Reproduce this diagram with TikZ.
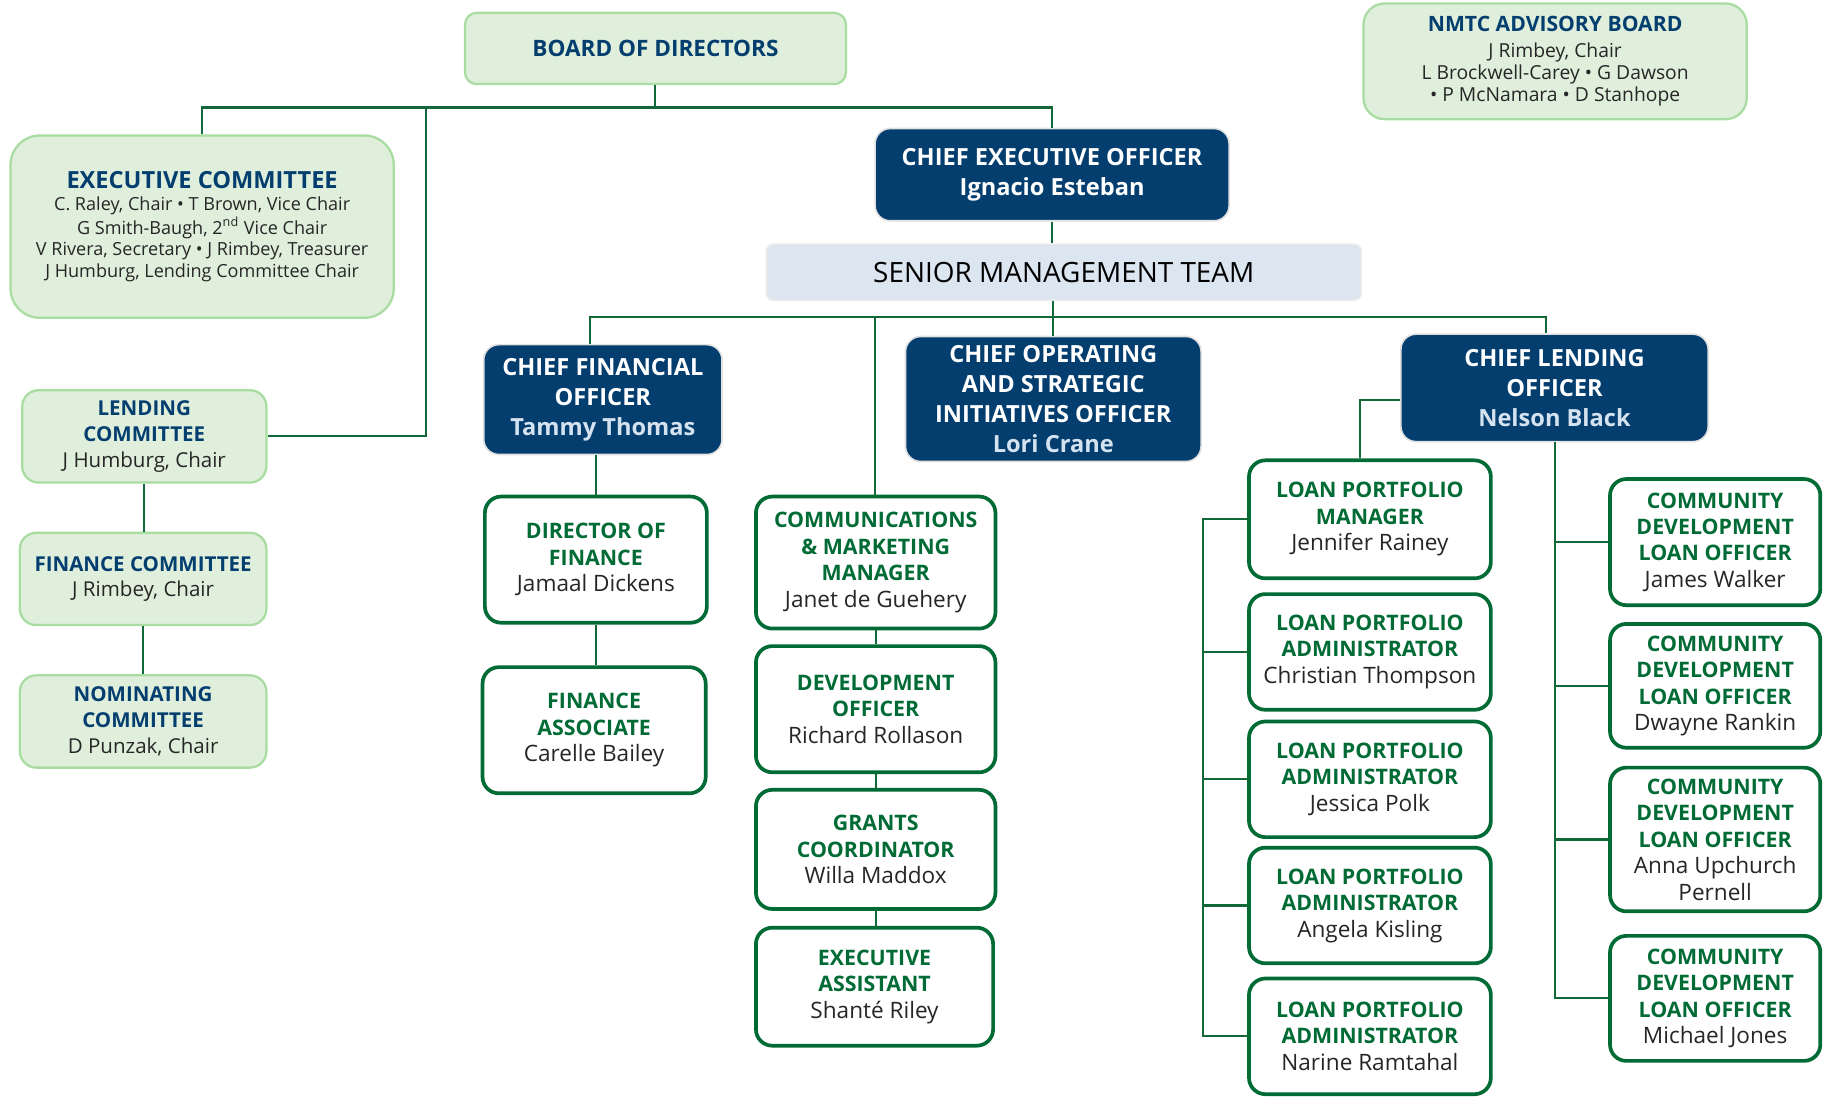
\documentclass[tikz,border=0pt]{standalone}
\usepackage{fontspec}
\setmainfont{Open Sans}
\definecolor{navy}{HTML}{033E6F}
\definecolor{cmfill}{HTML}{DFEFDC}
\definecolor{cmline}{HTML}{A8DCA0}
\definecolor{staffgreen}{HTML}{006B35}
\definecolor{linkgreen}{HTML}{126838}
\definecolor{smtfill}{HTML}{DCE6F0}
\definecolor{namelight}{HTML}{D5E3F0}
\definecolor{bodytxt}{HTML}{262626}

\tikzset{
  link/.style={draw=linkgreen, line width=1pt},
  sz/.style 2 args={minimum width=#1*0.02cm, minimum height=#2*0.02cm},
  cmte/.style={fill=cmfill, draw=cmline, line width=1.1pt, rounded corners=0.28cm,
    align=center, inner sep=0pt, text=bodytxt, font=\fontsize{10}{12.5}\selectfont},
  chief/.style={fill=navy, draw=black!12, line width=0.8pt, rounded corners=0.26cm,
    align=center, inner sep=0pt, text=white, font=\fontsize{11.5}{14.5}\selectfont\bfseries},
  staff/.style={fill=white, draw=staffgreen, line width=1.8pt, rounded corners=0.28cm,
    align=center, inner sep=0pt, text=bodytxt, font=\fontsize{11}{12.9}\selectfont},
}
\newcommand{\cmttl}[1]{\textbf{\textcolor{navy}{#1}}}
\newcommand{\stttl}[1]{{\fontsize{10.4}{12.9}\selectfont\bfseries\color{staffgreen}#1}}
\newcommand{\chname}[1]{\textcolor{namelight}{#1}}

\begin{document}
\begin{tikzpicture}[x=0.02cm, y=-0.02cm]
\useasboundingbox (0,0) rectangle (1568,939);

% board and committees
\node[cmte, sz={326}{61}, rounded corners=0.2cm, font=\fontsize{11}{13}\selectfont\bfseries, text=navy] (board) at (561,41.5) {BOARD OF DIRECTORS};
\node[cmte, sz={328}{99}, rounded corners=0.36cm, font=\fontsize{9.4}{10.6}\selectfont] (nmtc) at (1331,52.5)
  {\cmttl{\fontsize{10.3}{12}\selectfont NMTC ADVISORY BOARD}\\[2pt]J Rimbey, Chair\\L Brockwell-Carey • G Dawson\\• P McNamara • D Stanhope};
\node[cmte, sz={328}{156}, rounded corners=0.5cm, font=\fontsize{8.8}{10.5}\selectfont] (excom) at (173,194)
  {\cmttl{\fontsize{11.5}{13}\selectfont EXECUTIVE COMMITTEE}\\C. Raley, Chair • T Brown, Vice Chair\\G Smith-Baugh, 2\textsuperscript{nd} Vice Chair\\V Rivera, Secretary • J Rimbey, Treasurer\\J Humburg, Lending Committee Chair};
\node[cmte, sz={209}{79}] (lend) at (123.5,373.5) {\cmttl{LENDING}\\\cmttl{COMMITTEE}\\J Humburg, Chair};
\node[cmte, sz={211}{79}] (fincom) at (122.5,495.5) {\cmttl{FINANCE COMMITTEE}\\J Rimbey, Chair};
\node[cmte, sz={211}{79}] (nomcom) at (122.5,617.5) {\cmttl{NOMINATING}\\\cmttl{COMMITTEE}\\D Punzak, Chair};

% officers
\node[chief, sz={303}{79}] (ceo) at (900.5,149.5) {CHIEF EXECUTIVE OFFICER\\Ignacio Esteban};
\node[fill=smtfill, draw=black!8, line width=0.8pt, rounded corners=0.12cm, sz={509}{48}, inner sep=0pt,
  font=\fontsize{13.6}{16}\selectfont] (smt) at (910.5,233) {SENIOR MANAGEMENT TEAM};
\node[chief, sz={204}{94}] (cfo) at (516,342) {CHIEF FINANCIAL\\OFFICER\\\chname{Tammy Thomas}};
\node[chief, sz={253}{107}] (coo) at (901.5,341.5) {CHIEF OPERATING\\AND STRATEGIC\\INITIATIVES OFFICER\\\chname{Lori Crane}};
\node[chief, sz={263}{92}] (clo) at (1330.5,332) {CHIEF LENDING\\OFFICER\\\chname{Nelson Black}};

% staff
\node[staff, sz={190}{108}] (dof) at (510,479) {\stttl{DIRECTOR OF}\\\stttl{FINANCE}\\Jamaal Dickens};
\node[staff, sz={191}{108}] (fa) at (508.5,625) {\stttl{FINANCE}\\\stttl{ASSOCIATE}\\Carelle Bailey};
\node[staff, sz={205}{113}] (comms) at (749.5,481.5) {\stttl{COMMUNICATIONS}\\\stttl{\& MARKETING}\\\stttl{MANAGER}\\Janet de Guehery};
\node[staff, sz={205}{108}] (dev) at (749.5,607) {\stttl{DEVELOPMENT}\\\stttl{OFFICER}\\Richard Rollason};
\node[staff, sz={205}{102}] (grants) at (749.5,727) {\stttl{GRANTS}\\\stttl{COORDINATOR}\\Willa Maddox};
\node[staff, sz={203}{101}] (ea) at (748.5,844.5) {\stttl{EXECUTIVE}\\\stttl{ASSISTANT}\\Shanté Riley};
\node[staff, sz={207}{101}] (lpm) at (1172.5,444.5) {\stttl{LOAN PORTFOLIO}\\\stttl{MANAGER}\\Jennifer Rainey};
\foreach \n/\y/\who in {lpa1/558/Christian Thompson, lpa2/667/Jessica Polk, lpa3/775/Angela Kisling, lpa4/887/Narine Ramtahal}
  \node[staff, sz={207}{99}] (\n) at (1172.5,\y) {\stttl{LOAN PORTFOLIO}\\\stttl{ADMINISTRATOR}\\\who};
\foreach \n/\y/\h/\who in {cd1/464/108/James Walker, cd2/587/106/Dwayne Rankin, cd3/718.5/123/Anna Upchurch\\Pernell, cd4/854.5/107/Michael Jones}
  \node[staff, sz={180}{\h}] (\n) at (1468,\y) {\stttl{COMMUNITY}\\\stttl{DEVELOPMENT}\\\stttl{LOAN OFFICER}\\\who};

% connectors
\coordinate (bodbus) at (561,92);
\coordinate (lendtap) at (365,92);
\draw[link] (board.south) -- (bodbus);
\draw[link] (excom.north) -- (excom.north |- bodbus) -- (ceo.north |- bodbus) -- (ceo.north);
\draw[link] (lendtap) |- (lend.east);
\foreach \a/\b in {lend/fincom, fincom/nomcom}
  \draw[link] (\a.south) -- (\a.south |- \b.north);

\draw[link] (ceo.south) -- (ceo.south |- smt.north);
\coordinate (smtbus) at (901,271);
\coordinate (cfotap) at (505,271);
\coordinate (comtap) at (749,271);
\coordinate (clotap) at (1323,271);
\draw[link] (smt.south -| smtbus) -- (smtbus);
\draw[link] (cfotap |- cfo.north) -- (cfotap) -- (clotap) -- (clotap |- clo.north);
\draw[link] (comtap) -- (comtap |- comms.north);
\draw[link] (smtbus) -- (smtbus |- coo.north);

\draw[link] (dof.north) -- (dof.north |- cfo.south);
\draw[link] (dof.south) -- (dof.south |- fa.north);
\foreach \a/\b in {comms/dev, dev/grants, grants/ea}
  \draw[link] (\a.south) -- (\a.south |- \b.north);

\draw[link] ([yshift=-0.2cm]clo.west) -| ([xshift=-0.17cm]lpm.north);
\coordinate (lpspine) at (1030,0);
\draw[link] (lpm.west) -- (lpm.west -| lpspine) -- (lpa4.west -| lpspine) -- (lpa4.west);
\foreach \n in {lpa1, lpa2, lpa3}
  \draw[link] (\n.west -| lpspine) -- (\n.west);
\draw[link] (clo.south) -- (clo.south |- cd4.west) -- (cd4.west);
\foreach \n in {cd1, cd2, cd3}
  \draw[link] (\n.west -| clo.south) -- (\n.west);
\end{tikzpicture}
\end{document}
